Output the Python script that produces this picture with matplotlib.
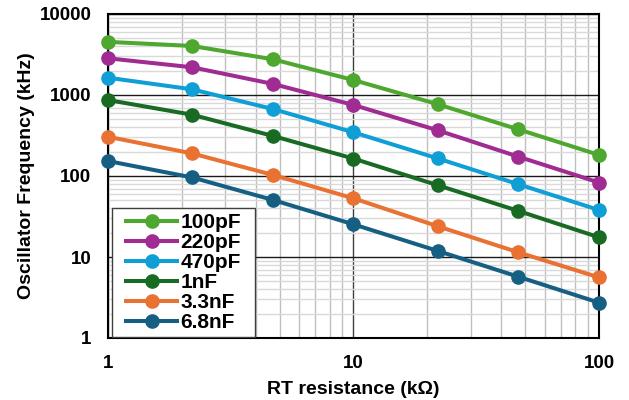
import matplotlib
matplotlib.use('Agg')
import matplotlib.pyplot as plt
from matplotlib.patches import Rectangle
from matplotlib.ticker import LogLocator, NullFormatter, FixedLocator

plt.rcParams['font.family'] = ['Liberation Sans', 'DejaVu Sans']
plt.rcParams['font.weight'] = 'bold'

# RT resistance (kOhm)
rt = [1, 2.2, 4.7, 10, 22, 47, 100]

labels = ['100pF', '220pF', '470pF', '1nF', '3.3nF', '6.8nF']
f_100p = [4530, 4030, 2760, 1530, 770, 376, 182]
f_220p = [2840, 2200, 1370, 753, 367, 173, 83]
f_470p = [1635, 1175, 671, 346, 165, 79, 38]
f_1n   = [867, 571, 312, 164, 77, 37, 17.5]
f_3n3  = [305, 190, 103, 53, 24, 11.4, 5.6]
f_6n8  = [153, 96, 50.6, 25.3, 11.9, 5.7, 2.73]
series = [f_100p, f_220p, f_470p, f_1n, f_3n3, f_6n8]
colors = ['#4EA72E', '#A02B93', '#0F9ED5', '#196B24', '#E97132', '#156082']

fig = plt.figure(figsize=(6.29, 4.0), dpi=100)
ax = fig.add_axes([0.1717, 0.155, 0.7806, 0.81])

for lab, ys, c in zip(labels, series, colors):
    ax.plot(rt, ys, '-o', color=c, lw=2.9, ms=9.5, label=lab,
            clip_on=False, zorder=3)

ax.set_xscale('log')
ax.set_yscale('log')
ax.set_xlim(1, 100)
ax.set_ylim(1, 10000)

ax.yaxis.set_major_locator(FixedLocator([1, 10, 100, 1000, 10000]))
ax.set_yticklabels(['1', '10', '100', '1000', '10000'])
ax.xaxis.set_major_locator(FixedLocator([1, 10, 100]))
ax.set_xticklabels(['1', '10', '100'])
ax.xaxis.set_minor_locator(LogLocator(base=10, subs=range(2, 10)))
ax.yaxis.set_minor_locator(LogLocator(base=10, subs=range(2, 10)))
ax.xaxis.set_minor_formatter(NullFormatter())
ax.yaxis.set_minor_formatter(NullFormatter())

ax.grid(True, which='major', axis='y', color='#1a1a1a', lw=1.0)
ax.grid(True, which='major', axis='x', color='#404040', lw=1.0)
ax.grid(True, which='minor', axis='x', color='#bfbfbf', lw=1.0)
ax.grid(True, which='minor', axis='y', color='#d9d9d9', lw=1.0)
ax.set_axisbelow(True)

ax.tick_params(which='both', length=0, labelsize=13.5, pad=12)
for s in ax.spines.values():
    s.set_color('black')
    s.set_linewidth(1.5)

ax.set_xlabel('RT resistance (k\u03a9)', fontsize=14, fontweight='bold', labelpad=7)
ax.set_ylabel('Oscillator Frequency (kHz)', fontsize=14, fontweight='bold', labelpad=3)

# legend without frame, then a wider box drawn behind it
leg = ax.legend(loc='lower left', bbox_to_anchor=(0.0265, 0.002), fontsize=15,
                frameon=False, handlelength=2.45,
                borderpad=0.25, labelspacing=0.05, handletextpad=0.15,
                borderaxespad=0.0)
leg.set_zorder(6)
for t in leg.get_texts():
    t.set_fontweight('bold')

fig.canvas.draw()
bb = leg.get_window_extent().transformed(ax.transAxes.inverted())
extra = 9 / ax.get_window_extent().width
box = Rectangle((bb.x0 - extra, bb.y0), bb.width + 2 * extra, bb.height,
                transform=ax.transAxes, facecolor='white', edgecolor='#404040',
                lw=1.0, zorder=5)
ax.add_patch(box)

fig.savefig('out.png', dpi=100)
